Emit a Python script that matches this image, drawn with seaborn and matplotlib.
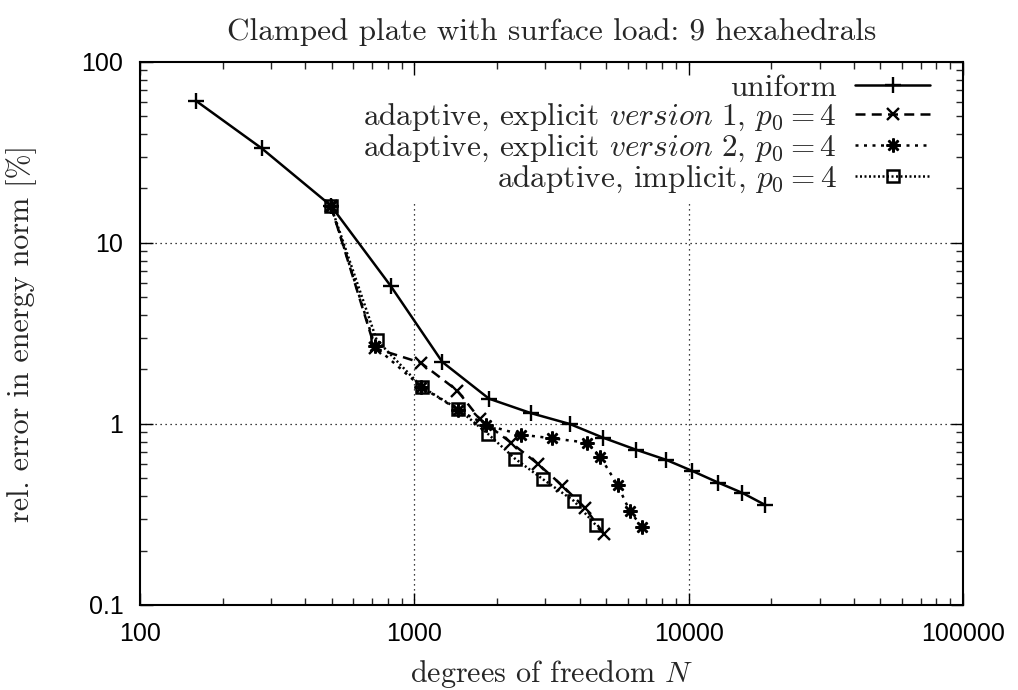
import matplotlib
matplotlib.use("Agg")
import matplotlib.pyplot as plt
import seaborn as sns
import pandas as pd
import numpy as np
from matplotlib.ticker import LogLocator, FixedLocator, FixedFormatter, NullFormatter

# ---- data ----
uniform_N = [160, 278, 496, 820, 1265, 1871, 2671, 3686, 4875, 6427, 8250, 10315, 12831, 15700, 18940]
uniform_err = [61.0, 33.3, 16.1, 5.79, 2.20, 1.38, 1.146, 1.0, 0.840, 0.721, 0.635, 0.550, 0.474, 0.416, 0.358]

v1_N = [496, 719, 1055, 1434, 1736, 2252, 2825, 3465, 4202, 4916]
v1_err = [16.1, 2.62, 2.18, 1.53, 1.061, 0.788, 0.601, 0.456, 0.342, 0.246]

v2_N = [496, 720, 1062, 1442, 1826, 2449, 3170, 4273, 4765, 5514, 6095, 6772]
v2_err = [16.1, 2.68, 1.60, 1.20, 0.987, 0.873, 0.834, 0.788, 0.658, 0.458, 0.331, 0.269]

imp_N = [496, 729, 1065, 1447, 1862, 2328, 2944, 3817, 4597]
imp_err = [16.1, 2.91, 1.60, 1.206, 0.877, 0.643, 0.495, 0.3755, 0.2755]

labels = [
    "uniform",
    r"adaptive, explicit $\mathit{version\ 1}$, $p_0 = 4$",
    r"adaptive, explicit $\mathit{version\ 2}$, $p_0 = 4$",
    r"adaptive, implicit, $p_0 = 4$",
]
xticks = [100, 1000, 10000, 100000]
xticklabels = ["100", "1000", "10000", "100000"]
yticks = [0.1, 1, 10, 100]
yticklabels = ["0.1", "1", "10", "100"]

sns.set_theme(style="ticks")
plt.rcParams["mathtext.fontset"] = "cm"
plt.rcParams["axes.unicode_minus"] = False

fig = plt.figure(figsize=(10.18, 6.9), dpi=100)
ax = fig.add_axes([0.1375, 0.1232, 0.8085, 0.7870])

series = [
    (uniform_N, uniform_err, dict(linestyle="-", marker="+", markersize=11, mew=1.7)),
    (v1_N, v1_err, dict(linestyle=(0, (4, 2.5)), marker="x", markersize=9, mew=1.7)),
    (v2_N, v2_err, dict(linestyle=(0, (1.2, 2.2)), marker=(8, 2, 0), markersize=10, mew=1.8)),
    (imp_N, imp_err, dict(linestyle=(0, (0.8, 1.0)), marker="s", markersize=8, mew=1.8,
                          markerfacecolor="none")),
]
for (xs, ys, st), lab in zip(series, labels):
    df = pd.DataFrame({"N": xs, "err": ys})
    sns.lineplot(data=df, x="N", y="err", ax=ax, color="black", linewidth=1.8,
                 sort=False, estimator=None, label=lab, markeredgecolor="black", **st)

ax.set_xscale("log")
ax.set_yscale("log")
ax.set_xlim(100, 100000)
ax.set_ylim(0.1, 100)

ax.xaxis.set_major_locator(FixedLocator(xticks))
ax.xaxis.set_major_formatter(FixedFormatter(xticklabels))
ax.yaxis.set_major_locator(FixedLocator(yticks))
ax.yaxis.set_major_formatter(FixedFormatter(yticklabels))
ax.xaxis.set_minor_locator(LogLocator(base=10, subs=np.arange(2, 10)))
ax.yaxis.set_minor_locator(LogLocator(base=10, subs=np.arange(2, 10)))
ax.xaxis.set_minor_formatter(NullFormatter())
ax.yaxis.set_minor_formatter(NullFormatter())

tickfont = ["Liberation Sans Narrow", "Liberation Sans", "DejaVu Sans"]
ax.tick_params(which="major", direction="in", length=9, width=1.0, top=True, right=True,
               labelsize=18, pad=12, colors="black")
ax.tick_params(which="minor", direction="in", length=5, width=1.0, top=True, right=True)
for lbl in ax.get_xticklabels() + ax.get_yticklabels():
    lbl.set_family(tickfont)

# grid drawn as plain lines (beneath the legend), ticks stay on top
ax.grid(False)
for xv in xticks[1:-1]:
    ax.axvline(xv, linestyle=(0, (1, 3)), color="black", linewidth=0.9, zorder=1)
for yv in yticks[1:-1]:
    ax.axhline(yv, linestyle=(0, (1, 3)), color="black", linewidth=0.9, zorder=1)
ax.xaxis.set_zorder(8)
ax.yaxis.set_zorder(8)
for s in ax.spines.values():
    s.set_linewidth(1.5)
    s.set_color("black")
    s.set_zorder(9)

cm = "cmr10"
ax.set_title("Clamped plate with surface load: 9 hexahedrals", fontfamily=cm, fontsize=22.5, pad=16)
ax.set_xlabel(r"degrees of freedom $N$", fontfamily=cm, fontsize=21.7, labelpad=9)
ax.set_ylabel(r"rel. error in energy norm [%]", fontfamily=cm, fontsize=21.7, labelpad=32)

leg = ax.legend(loc="upper right", bbox_to_anchor=(0.968, 0.99), markerfirst=False, frameon=True,
                framealpha=1, edgecolor="white", facecolor="white", fancybox=False,
                prop={"family": cm, "size": 22.5}, handlelength=2.4, handletextpad=0.6,
                labelspacing=0.0, borderaxespad=0.0, borderpad=0.2)
leg.set_zorder(5)
for t in leg.get_texts():
    t.set_ha("right")
leg._legend_box.align = "right"

fig.savefig("out.png", dpi=100, facecolor="white")
